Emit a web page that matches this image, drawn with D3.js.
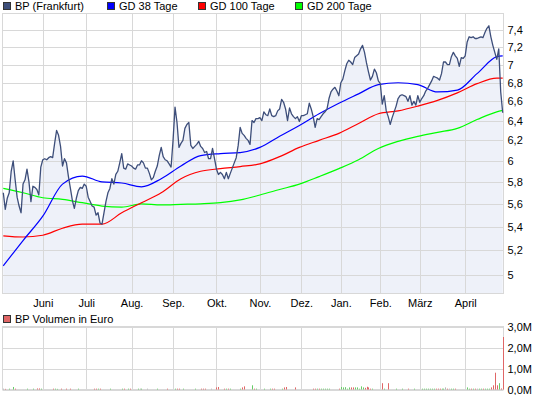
<!DOCTYPE html>
<html>
<head>
<meta charset="utf-8">
<script src="https://cdn.jsdelivr.net/npm/d3@7"></script>
<style>
  html, body { margin: 0; padding: 0; background: #fff; }
  svg { display: block; font-family: 'Liberation Sans', Arial, sans-serif; font-size: 11px; }
</style>
</head>
<body>
<svg id="chart" width="545" height="395"></svg>
<script>
'use strict';

// BP (Frankfurt), daily close in EUR, one value per trading day (May 2009 - April 2010)
const priceClose = [
    5.70, 5.55, 5.65, 5.70, 5.90, 6.00, 5.82, 5.66, 5.58, 5.52,
    5.78, 5.82, 5.92, 5.80, 5.62, 5.76, 5.75, 5.73, 5.68, 5.94,
    6.01, 6.02, 6.01, 6.03, 6.04, 6.03, 6.17, 6.30, 6.25, 6.14,
    5.95, 6.02, 5.98, 5.85, 5.74, 5.63, 5.56, 5.65, 5.72, 5.75,
    5.74, 5.78, 5.76, 5.66, 5.62, 5.58, 5.57, 5.50, 5.52, 5.43,
    5.42, 5.52, 5.62, 5.70, 5.74, 5.83, 5.78, 5.87, 5.90, 5.98,
    6.07, 5.93, 5.92, 5.97, 5.96, 5.95, 5.93, 5.92, 5.96, 5.96,
    6.00, 5.98, 5.93, 5.93, 5.88, 5.82, 5.84, 5.90, 5.95, 6.05,
    6.13, 6.04, 6.01, 6.00, 5.97, 5.94, 6.20, 6.54, 6.38, 6.13,
    6.17, 6.20, 6.32, 6.36, 6.38, 6.15, 6.12, 6.14, 6.16, 6.19,
    6.14, 6.12, 6.08, 6.09, 6.02, 6.02, 6.12, 6.02, 5.92, 5.87,
    5.89, 5.87, 5.83, 5.89, 5.83, 5.88, 5.93, 5.98, 6.03, 6.15,
    6.33, 6.27, 6.25, 6.22, 6.20, 6.16, 6.40, 6.38, 6.42, 6.42,
    6.43, 6.40, 6.49, 6.46, 6.45, 6.52, 6.45, 6.44, 6.45, 6.50,
    6.52, 6.62, 6.59, 6.52, 6.40, 6.53, 6.47, 6.44, 6.42, 6.44,
    6.39, 6.45, 6.45, 6.46, 6.47, 6.58, 6.52, 6.44, 6.33, 6.42,
    6.41, 6.44, 6.47, 6.49, 6.52, 6.63, 6.70, 6.73, 6.75, 6.71,
    6.66, 6.80, 6.84, 6.93, 7.01, 7.05, 7.03, 7.00, 7.08, 7.10,
    7.12, 7.18, 7.22, 7.14, 7.02, 6.92, 6.83, 6.87, 6.95, 6.91,
    6.82, 6.79, 6.57, 6.66, 6.50, 6.44, 6.36, 6.43, 6.49, 6.55,
    6.63, 6.66, 6.67, 6.66, 6.65, 6.60, 6.66, 6.56, 6.60, 6.56,
    6.66, 6.59, 6.63, 6.66, 6.71, 6.74, 6.78, 6.82, 6.87, 6.86,
    6.85, 6.83, 6.90, 7.03, 7.03, 7.00, 7.00, 7.09, 7.14, 7.10,
    7.07, 6.98, 7.08, 7.07, 7.10, 7.26, 7.32, 7.31, 7.32, 7.30,
    7.30, 7.31, 7.32, 7.31, 7.37, 7.42, 7.45, 7.32, 7.22, 7.14,
    7.06, 7.18, 6.70, 6.48
];

// moving averages, read every 10 trading days
const maDays = [0, 10, 20, 30, 40, 50, 60, 70, 80, 90, 100, 110, 120, 130,
    140, 150, 160, 170, 180, 190, 200, 210, 220, 230, 240, 250, 253];
const ma38 = [5.07, 5.28, 5.49, 5.78, 5.855, 5.80, 5.79, 5.755, 5.83, 5.95, 6.05, 6.07, 6.08, 6.13,
    6.24, 6.35, 6.47, 6.58, 6.68, 6.78, 6.80, 6.78, 6.70, 6.72, 6.90, 7.09, 7.10];
const ma100 = [5.32, 5.31, 5.325, 5.385, 5.42, 5.42, 5.52, 5.61, 5.70, 5.83, 5.90, 5.925, 5.945, 5.97,
    6.04, 6.13, 6.20, 6.27, 6.37, 6.47, 6.50, 6.55, 6.61, 6.69, 6.79, 6.85, 6.85];
const ma200 = [5.74, 5.70, 5.655, 5.64, 5.61, 5.58, 5.57, 5.60, 5.59, 5.595, 5.60, 5.61, 5.635, 5.68,
    5.73, 5.78, 5.85, 5.925, 6.01, 6.12, 6.19, 6.24, 6.28, 6.32, 6.41, 6.49, 6.505];

// daily volume in thousand EUR
const volume = [
    40, 30, 0, 40, 0, 120, 40, 0, 0, 0,
    0, 0, 40, 0, 0, 40, 0, 50, 50, 40,
    0, 0, 0, 0, 0, 40, 40, 30, 0, 40,
    0, 0, 40, 0, 40, 0, 0, 0, 40, 0,
    0, 0, 0, 0, 0, 0, 40, 40, 40, 40,
    0, 0, 0, 0, 40, 0, 0, 0, 0, 0,
    40, 40, 0, 40, 40, 0, 0, 0, 40, 40,
    40, 0, 0, 40, 0, 0, 0, 0, 40, 0,
    0, 0, 0, 40, 0, 0, 0, 40, 40, 40,
    0, 40, 0, 0, 0, 0, 0, 40, 0, 0,
    40, 40, 40, 0, 0, 40, 0, 0, 100, 120,
    0, 0, 40, 40, 40, 40, 0, 0, 0, 0,
    40, 100, 150, 0, 0, 0, 200, 40, 40, 0,
    0, 0, 40, 0, 0, 40, 40, 40, 0, 0,
    0, 40, 100, 120, 0, 0, 0, 0, 100, 0,
    0, 0, 0, 0, 0, 0, 0, 40, 40, 40,
    40, 40, 40, 40, 40, 40, 0, 0, 0, 0,
    40, 120, 100, 110, 40, 100, 100, 100, 100, 100,
    40, 150, 100, 80, 130, 100, 40, 40, 0, 0,
    0, 0, 300, 40, 0, 300, 0, 0, 0, 40,
    0, 0, 40, 0, 0, 40, 0, 0, 40, 0,
    0, 0, 40, 40, 40, 40, 40, 40, 40, 40,
    40, 40, 40, 40, 100, 40, 40, 40, 40, 40,
    0, 0, 0, 0, 0, 100, 40, 40, 40, 40,
    40, 40, 40, 40, 40, 40, 40, 100, 200, 800,
    200, 300, 50, 2500
];

// first trading day of each month (index into priceClose)
const monthDays = [20, 42, 65, 86, 108, 130, 151, 171, 191, 211, 234];
const monthLabels = ['Juni', 'Juli', 'Aug.', 'Sep.', 'Okt.', 'Nov.', 'Dez.', 'Jan.', 'Feb.', 'März', 'April'];

const priceTicks = [5, 5.2, 5.4, 5.6, 5.8, 6, 6.2, 6.4, 6.6, 6.8, 7, 7.2, 7.4];
const volumeTicks = [0, 1000, 2000, 3000];

const legendNames = ['BP (Frankfurt)', 'GD 38 Tage', 'GD 100 Tage', 'GD 200 Tage'];

const colors = {
    price: '#3d4e7a',
    ma38: '#0000ff',
    ma100: '#ff0000',
    ma200: '#00ff00',
    fill: '#eef1f9',
    grid: '#d8d8d8',
    up: '#66cc66',
    down: '#e06666',
    flat: '#b4b4b4'
};

const de = d3.formatLocale({ decimal: ',', thousands: '.', grouping: [3], currency: ['', ' €'] });

const main = { left: 2.5, right: 503.5, top: 13.5, bottom: 293.5 };
const vol = { left: 2.5, right: 503.5, top: 326.5, bottom: 389.5 };

const svg = d3.select('#chart');

const x = d3.scaleLinear().domain([0, priceClose.length - 1]).range([3.3, 502.7]);
const y = d3.scaleLog().domain([5, 7.4]).range([274.5, 30]);
const yVol = d3.scaleLinear().domain([0, 3000]).range([vol.bottom, vol.top]);

const crisp = v => Math.round(v) + 0.5;

/**
 * Light grid and frame of one panel
 */
function drawGrid(g, box, yScale, yTicks) {
    g.append('rect')
        .attr('x', box.left)
        .attr('y', box.top)
        .attr('width', box.right - box.left)
        .attr('height', box.bottom - box.top)
        .attr('fill', 'none')
        .attr('stroke', colors.grid);

    g.selectAll('line.h')
        .data(yTicks)
        .enter()
        .append('line')
        .attr('class', 'h')
        .attr('x1', box.left)
        .attr('x2', box.right)
        .attr('y1', d => crisp(yScale(d)))
        .attr('y2', d => crisp(yScale(d)))
        .attr('stroke', colors.grid);

    g.selectAll('line.v')
        .data(monthDays)
        .enter()
        .append('line')
        .attr('class', 'v')
        .attr('x1', d => crisp(x(d)))
        .attr('x2', d => crisp(x(d)))
        .attr('y1', box.top)
        .attr('y2', box.bottom)
        .attr('stroke', colors.grid);
}

function legendItem(g, xPos, yPos, color, label) {
    g.append('rect')
        .attr('x', xPos + 0.5)
        .attr('y', yPos + 0.5)
        .attr('width', 7)
        .attr('height', 7)
        .attr('fill', color)
        .attr('stroke', '#333');
    g.append('text')
        .attr('x', xPos + 12)
        .attr('y', yPos + 8)
        .attr('fill', '#000')
        .text(label);
}

/* PRICE PANEL */

const pricePanel = svg.append('g');

pricePanel.append('path')
    .datum(priceClose)
    .attr('fill', colors.fill)
    .attr('d', d3.area()
        .x((d, i) => x(i))
        .y0(main.bottom)
        .y1(d => y(d)));

drawGrid(pricePanel, main, y, priceTicks);

const maLine = d3.line()
    .x((d, i) => x(maDays[i]))
    .y(d => y(d))
    .curve(d3.curveMonotoneX);

[[ma200, colors.ma200], [ma100, colors.ma100], [ma38, colors.ma38]].forEach(([values, color]) => {
    pricePanel.append('path')
        .datum(values)
        .attr('fill', 'none')
        .attr('stroke', color)
        .attr('stroke-width', 1.2)
        .attr('d', maLine);
});

pricePanel.append('path')
    .datum(priceClose)
    .attr('fill', 'none')
    .attr('stroke', colors.price)
    .attr('stroke-width', 1.3)
    .attr('stroke-linejoin', 'round')
    .attr('d', d3.line()
        .x((d, i) => x(i))
        .y(d => y(d)));

const yAxis = pricePanel.append('g')
    .attr('transform', 'translate(' + main.right + ',0)')
    .call(d3.axisRight(y)
        .tickValues(priceTicks)
        .tickFormat(de.format('.2~f'))
        .tickSize(0)
        .tickPadding(4));

const xAxis = pricePanel.append('g')
    .attr('transform', 'translate(0,' + main.bottom + ')')
    .call(d3.axisBottom(x)
        .tickValues(monthDays)
        .tickFormat((d, i) => monthLabels[i])
        .tickSize(0)
        .tickPadding(6));

// main legend
const legend = svg.append('g');
const legendColors = [colors.price, colors.ma38, colors.ma100, colors.ma200];
const legendX = [3, 107, 198, 295];
legendNames.forEach((name, i) => legendItem(legend, legendX[i], 2, legendColors[i], name));

/* VOLUME PANEL */

const volPanel = svg.append('g');

legendItem(volPanel, 3, 315, colors.down, 'BP Volumen in Euro');

drawGrid(volPanel, vol, yVol, volumeTicks);

volPanel.selectAll('rect.bar')
    .data(volume)
    .enter()
    .append('rect')
    .attr('class', 'bar')
    .attr('x', (d, i) => Math.round(x(i)))
    .attr('width', 1)
    .attr('y', d => yVol(d))
    .attr('height', d => vol.bottom - yVol(d))
    .attr('fill', (d, i) => {
        const change = i ? priceClose[i] - priceClose[i - 1] : 0;
        if (Math.abs(change) < 0.005) return colors.flat;
        return change > 0 ? colors.up : colors.down;
    });

const volAxis = volPanel.append('g')
    .attr('transform', 'translate(' + vol.right + ',0)')
    .call(d3.axisRight(yVol)
        .tickValues(volumeTicks)
        .tickFormat(d => de.format('.1f')(d / 1000) + 'M')
        .tickSize(0)
        .tickPadding(4));

// axis styling: no domain line, chart font
[yAxis, xAxis, volAxis].forEach(a => {
    a.select('.domain').remove();
    a.attr('font-family', null).attr('font-size', null);
    a.selectAll('text').attr('fill', '#000');
});
</script>
</body>
</html>
